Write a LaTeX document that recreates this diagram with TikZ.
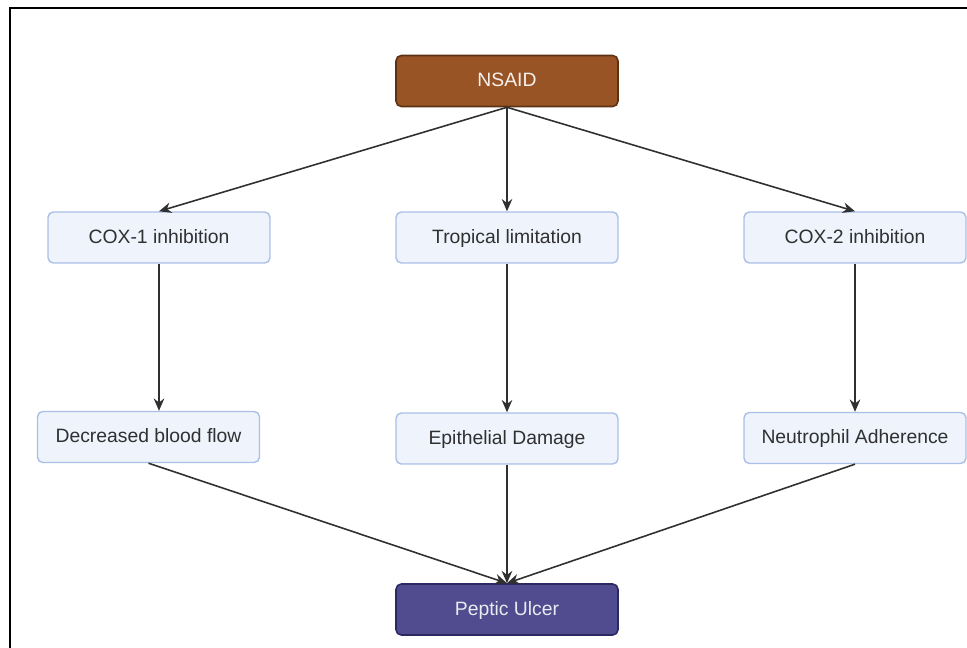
\documentclass[tikz,border=0pt]{standalone}
\usepackage{fontspec}
\setmainfont{Liberation Sans}
\usepackage{xcolor}
\usepackage{tikz}
\usetikzlibrary{positioning,arrows.meta}

\definecolor{nsaidbrown}{HTML}{995426}
\definecolor{nsaidedge}{HTML}{5C3212}
\definecolor{ulcerblue}{HTML}{504C8F}
\definecolor{ulceredge}{HTML}{2C2962}
\definecolor{boxfill}{HTML}{EEF3FC}
\definecolor{boxline}{HTML}{AAC0E6}
\definecolor{txtgray}{HTML}{303030}

\begin{document}
\begin{tikzpicture}[x=0.02cm,y=-0.02cm,
  stepbox/.style={draw=boxline, fill=boxfill, rounded corners=3pt, line width=0.8pt,
    minimum width=4.44cm, minimum height=1.02cm, text=txtgray,
    text height=1.6ex, text depth=0.4ex,
    font=\fontsize{11}{13}\selectfont},
  darkbox/.style={stepbox, line width=0.9pt},
  link/.style={-{Stealth[length=7pt,width=6pt]}, txtgray, line width=0.9pt}]
\useasboundingbox (0,0) rectangle (967,648);
% frame
\draw[black, line width=1.7pt] (10,648) -- (10,8) -- (967,8);

\node[darkbox, fill=nsaidbrown, draw=nsaidedge, text=white!92!nsaidbrown] (nsaid) at (507,81) {NSAID};
\node[stepbox] (cox1) at (159,237.5) {COX-1 inhibition};
\node[stepbox] (topic) at (507,237.5) {Tropical limitation};
\node[stepbox] (cox2) at (855,237.5) {COX-2 inhibition};
\node[stepbox] (blood) at (148.5,437) {Decreased blood flow};
\node[stepbox] (epith) at (507,438.5) {Epithelial Damage};
\node[stepbox] (neutro) at (855,438) {Neutrophil Adherence};
\node[darkbox, fill=ulcerblue, draw=ulceredge, text=white!88!ulcerblue] (ulcer) at (507,609.5) {Peptic Ulcer};

\draw[link] (nsaid.south) -- (cox1.north);
\draw[link] (nsaid.south) -- (topic.north);
\draw[link] (nsaid.south) -- (cox2.north);
\draw[link] (cox1.south) -- (cox1.south |- blood.north);
\draw[link] (topic.south) -- (epith.north);
\draw[link] (cox2.south) -- (neutro.north);
\draw[link] (blood.south) -- (ulcer.north);
\draw[link] (epith.south) -- (ulcer.north);
\draw[link] (neutro.south) -- (ulcer.north);
\end{tikzpicture}
\end{document}
